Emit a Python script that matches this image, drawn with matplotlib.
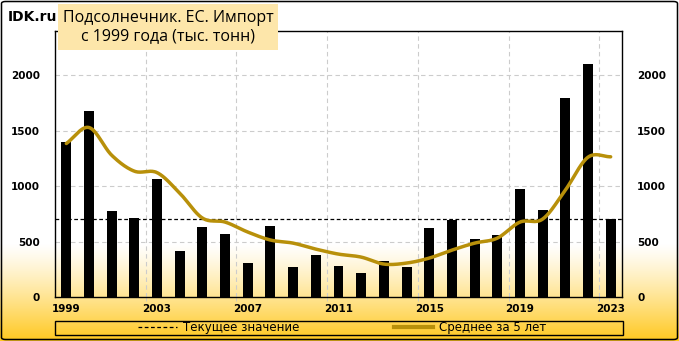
import numpy as np
import matplotlib
matplotlib.use('Agg')
import matplotlib.pyplot as plt
from matplotlib.patches import Rectangle, FancyBboxPatch
from matplotlib.lines import Line2D

# ---- данные (тыс. тонн) ----
years = [1999, 2000, 2001, 2002, 2003, 2004, 2005, 2006, 2007, 2008, 2009, 2010,
         2011, 2012, 2013, 2014, 2015, 2016, 2017, 2018, 2019, 2020, 2021, 2022, 2023]
imports = [1400, 1680, 775, 712, 1063, 414, 631, 568, 306, 640, 270, 378,
           279, 216, 324, 270, 622, 697, 523, 559, 973, 784, 1793, 2099, 703]
avg5 = [1385, 1529, 1279, 1135, 1122, 937, 712, 676, 586, 514, 486, 432,
        387, 360, 297, 306, 351, 423, 486, 531, 676, 703, 964, 1261, 1265]
current = 703
year_ticks = [1999, 2003, 2007, 2011, 2015, 2019, 2023]
y_ticks = [0, 500, 1000, 1500, 2000]

TITLE = 'Подсолнечник. ЕС. Импорт\nс 1999 года (тыс. тонн)'
W, H = 679, 341


def smooth(x, y, n=20):
    # сглаживание линии как в Excel (Catmull-Rom)
    x = np.asarray(x, float)
    y = np.asarray(y, float)
    px = np.concatenate([[2 * x[0] - x[1]], x, [2 * x[-1] - x[-2]]])
    py = np.concatenate([[2 * y[0] - y[1]], y, [2 * y[-1] - y[-2]]])
    xs, ys = [], []
    t = np.linspace(0, 1, n, endpoint=False)
    for i in range(1, len(px) - 2):
        for arr, out in ((px, xs), (py, ys)):
            p0, p1, p2, p3 = arr[i - 1], arr[i], arr[i + 1], arr[i + 2]
            out.extend(0.5 * (2 * p1 + (-p0 + p2) * t + (2 * p0 - 5 * p1 + 4 * p2 - p3) * t ** 2
                              + (-p0 + 3 * p1 - 3 * p2 + p3) * t ** 3))
    xs.append(x[-1]); ys.append(y[-1])
    return np.array(xs), np.array(ys)


fig = plt.figure(figsize=(W / 100, H / 100), dpi=100)

# ---- фон-градиент (по пикселям) ----
rows = np.arange(H)
f = np.clip((rows - 243) / (H - 243), 0, 1) ** 1.2
top = np.array([1.0, 1.0, 1.0])
bot = np.array([255, 200, 30]) / 255
grad = top[None, :] * (1 - f[:, None]) + bot[None, :] * f[:, None]
grad = np.repeat(grad[:, None, :], W, axis=1)
fig.figimage(grad, xo=0, yo=0, origin='upper', zorder=-2)

# ---- основная область ----
ax = fig.add_axes([55 / W, 1 - 297 / H, (622 - 55) / W, (297 - 31) / H])
ax.set_facecolor('none')
ax.bar(years, imports, width=0.44, color='black', zorder=3)
sx, sy = smooth(years, avg5)
ax.plot(sx, sy, color='#B8900A', lw=2.5, zorder=4, solid_capstyle='round')
ax.axhline(current, color='black', ls=(0, (3, 2)), lw=0.9, zorder=2)

ax.set_xlim(1998.5, 2023.5)
ax.set_ylim(0, 2400)
ax.set_xticks(year_ticks)
ax.set_yticks(y_ticks)
ax.set_xticks(np.arange(2002.5, 2023, 4), minor=True)
ax.grid(False)
for v in y_ticks[1:]:
    ax.axhline(v, color='#CCCCCC', ls=(0, (4, 3)), lw=0.8, zorder=1)
for v in np.arange(2002.5, 2023, 4):
    ax.axvline(v, color='#CCCCCC', ls=(0, (4, 3)), lw=0.8, zorder=1)
ax.tick_params(axis='x', which='major', length=0, pad=5, labelsize=7.5)
ax.tick_params(axis='x', which='minor', length=3, color='#C8C8C8')
ax.tick_params(axis='y', length=0, pad=11, labelsize=7.5, labelright=True, right=False)
for lab in ax.get_xticklabels() + ax.get_yticklabels(which='both'):
    lab.set_fontweight('bold')
for s in ax.spines.values():
    s.set_linewidth(1.0)
    s.set_color('black')

# ---- заголовок ----
fig.add_artist(Rectangle((58 / W, 1 - 50 / H), (278 - 58) / W, (50 - 4) / H,
                         transform=fig.transFigure, facecolor='#FDE6AA',
                         edgecolor='none', zorder=5))
fig.text(168 / W, 1 - 27 / H, TITLE, ha='center', va='center', fontsize=11.5,
         family='Open Sans', linespacing=1.25, zorder=6)
fig.text(8 / W, 1 - 17 / H, 'IDK.ru', ha='left', va='center', fontsize=10,
         fontweight='bold', zorder=6)

# ---- легенда ----
fig.add_artist(Rectangle((55 / W, 1 - 335 / H), (623 - 55) / W, (335 - 321) / H,
                         transform=fig.transFigure, facecolor='none',
                         edgecolor='black', lw=1.0, zorder=5))
handles = [Line2D([], [], color='black', ls=(0, (3, 2)), lw=0.9),
           Line2D([], [], color='#B8900A', lw=3)]
fig.legend(handles, ['Текущее значение', 'Среднее за 5 лет'], loc='center',
           bbox_to_anchor=(342 / W, 1 - 328 / H), ncol=2, frameon=False,
           fontsize=8.5, handlelength=3.3, handletextpad=0.5, columnspacing=8,
           borderpad=0)

# ---- рамка ----
fig.add_artist(FancyBboxPatch((1.5 / W, 1.5 / H), (W - 3) / W, (H - 3) / H,
                              boxstyle='round,pad=0,rounding_size=0.006',
                              transform=fig.transFigure, facecolor='none',
                              edgecolor='black', lw=1.1, zorder=7))

fig.savefig('out.png', dpi=100)
